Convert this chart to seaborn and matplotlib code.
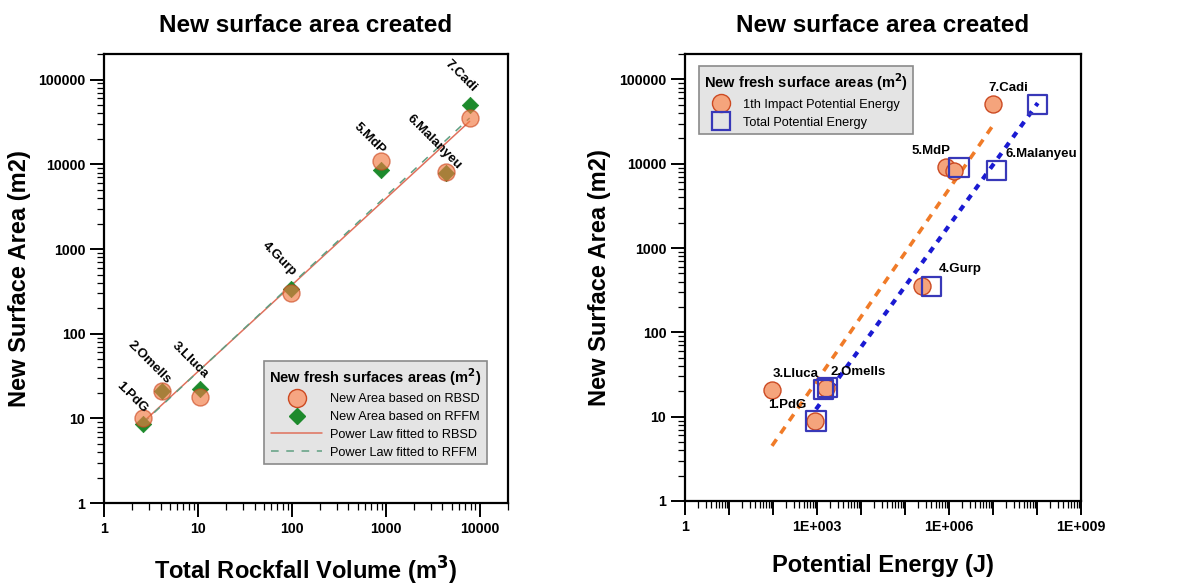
import numpy as np
import pandas as pd
import matplotlib
matplotlib.use('Agg')
import matplotlib.pyplot as plt
from matplotlib.lines import Line2D
from matplotlib.ticker import LogLocator, FuncFormatter, NullFormatter
import seaborn as sns

# site names, same order in both panels
sites = ['1.PdG', '2.Omells', '3.Lluca', '4.Gurp', '5.MdP', '6.Malanyeu', '7.Cadi']

# left panel: total rockfall volume (m3) vs new surface area (m2)
volume = [2.6, 4.1, 10.5, 98, 890, 4350, 7800]
area_rbsd = [10, 21, 18, 305, 10800, 8200, 35000]
area_rffm = [8.5, 21, 22, 340, 8500, 7900, 49500]

# right panel: potential energy (J) vs new surface area (m2)
energy_first = [900, 1600, 95, 245000, 850000, 1.3e6, 1.0e7]
energy_total = [950, 1700, 1380, 410000, 1.7e6, 1.23e7, 1.05e8]
area_energy = [8.9, 22, 21, 350, 9100, 8300, 51000]

# label offsets (pixels) for the site names
left_offsets = [(-11, 21), (-12, 29), (-10, 29), (-12, 30), (-12, 23), (-12, 30), (-9, 29)]
right_offsets = [(-29, 16), (31, 16), (-27, 16), (28, 17), (-28, 16), (45, 17), (-29, 16)]


def power_fit(x, y):
    # straight line in log-log space over the data range
    b, a = np.polyfit(np.log10(x), np.log10(y), 1)
    xs = np.array([min(x), max(x)])
    return xs, 10 ** a * xs ** b


sns.set_style('ticks')
plt.rcParams['font.family'] = ['Liberation Sans', 'DejaVu Sans']
plt.rcParams.update({
    'axes.linewidth': 1.6,
    'axes.edgecolor': 'black',
    'text.color': 'black',
    'axes.labelcolor': 'black',
    'xtick.color': 'black',
    'ytick.color': 'black',
})

df_left = pd.DataFrame({'site': sites, 'volume': volume,
                        'rbsd': area_rbsd, 'rffm': area_rffm})
df_right = pd.DataFrame({'site': sites, 'first': energy_first,
                         'total': energy_total, 'area': area_energy})

fig = plt.figure(figsize=(11.78, 5.85), dpi=100)
ax1 = fig.add_axes([0.0883, 0.140, 0.343, 0.7675])
ax2 = fig.add_axes([0.5815, 0.1436, 0.336, 0.764])

circle_face = '#f27a42'
circle_edge = '#cc4a22'
green = '#1d8a2c'

# ---- left panel ----
ax1.set_xscale('log')
ax1.set_yscale('log')
xs, ys = power_fit(volume, area_rbsd)
sns.lineplot(x=xs, y=ys, ax=ax1, color='#e0705c', lw=1.1, zorder=2)
xs, ys = power_fit(volume, area_rffm)
sns.lineplot(x=xs, y=ys, ax=ax1, color='#5f9f82', lw=1.1, zorder=2,
             linestyle=(0, (5, 5)))
sns.scatterplot(data=df_left, x='volume', y='rffm', ax=ax1, marker='D', s=70,
                color=green, edgecolor=green, linewidth=0.5, zorder=3)
sns.scatterplot(data=df_left, x='volume', y='rbsd', ax=ax1, marker='o', s=150,
                color=circle_face, edgecolor=circle_edge, linewidth=1.0,
                alpha=0.65, zorder=4)
for i, row in df_left.iterrows():
    dx, dy = left_offsets[i]
    ax1.annotate(row['site'], (row['volume'], max(row['rbsd'], row['rffm'])),
                 xytext=(dx, dy), textcoords='offset pixels', rotation=-45,
                 rotation_mode='anchor', ha='center', va='center',
                 fontsize=9.5, fontweight='bold', zorder=5)

ax1.set_xlim(1, 2e4)
ax1.set_ylim(1, 2e5)

left_handles = [
    Line2D([], [], marker='o', ls='none', ms=13, mfc='#f6a582', mec=circle_edge),
    Line2D([], [], marker='D', ls='none', ms=8, mfc=green, mec=green),
    Line2D([], [], color='#e0705c', lw=1.1),
    Line2D([], [], color='#5f9f82', lw=1.1, ls=(0, (5, 5))),
]
leg1 = ax1.legend(left_handles,
                  ['New Area based on RBSD', 'New Area based on RFFM',
                   'Power Law fitted to RBSD', 'Power Law fitted to RFFM'],
                  title='New fresh surfaces areas (m$^{\\mathbf{2}}$)',
                  loc='lower right', bbox_to_anchor=(0.963, 0.0735),
                  fontsize=9.2, title_fontsize=10.5, handlelength=4,
                  handletextpad=0.6, labelspacing=0.45, fancybox=False,
                  framealpha=1, facecolor='#e4e4e4', edgecolor='#8a8a8a')
leg1.get_title().set_fontweight('bold')
leg1.get_frame().set_linewidth(1.2)

# ---- right panel ----
ax2.set_xscale('log')
ax2.set_yscale('log')
xs, ys = power_fit(energy_first, area_energy)
sns.lineplot(x=xs, y=ys, ax=ax2, color='#f07b28', lw=2.6, zorder=2,
             linestyle=(0, (2.2, 2.0)))
xs, ys = power_fit(energy_total, area_energy)
sns.lineplot(x=xs, y=ys, ax=ax2, color='#1a1ad2', lw=3.0, zorder=2,
             linestyle=(0, (1.5, 1.6)))
sns.scatterplot(data=df_right, x='first', y='area', ax=ax2, marker='o', s=150,
                color='#f5a47c', edgecolor=circle_edge, linewidth=1.0, zorder=3)
sns.scatterplot(data=df_right, x='total', y='area', ax=ax2, marker='s', s=190,
                facecolor='none', edgecolor='#3838b8', linewidth=1.6, zorder=4)
for i, row in df_right.iterrows():
    dx, dy = right_offsets[i]
    ax2.annotate(row['site'], (row['total'], row['area']),
                 xytext=(dx, dy), textcoords='offset pixels',
                 ha='center', va='center', fontsize=9.5, fontweight='bold',
                 zorder=5)

ax2.set_xlim(1, 1e9)
ax2.set_ylim(1, 2e5)

right_handles = [
    Line2D([], [], marker='o', ls='none', ms=13, mfc='#f5a47c', mec=circle_edge),
    Line2D([], [], marker='s', ls='none', ms=13, mfc='none', mec='#3838b8', mew=1.6),
]
leg2 = ax2.legend(right_handles, ['1th Impact Potential Energy', 'Total Potential Energy'],
                  title='New fresh surface areas (m$^{\\mathbf{2}}$)',
                  loc='upper left', bbox_to_anchor=(0.018, 0.987),
                  fontsize=9.2, title_fontsize=10.5, handlelength=1.5,
                  handletextpad=1.0, labelspacing=0.45, fancybox=False,
                  framealpha=1, facecolor='#e4e4e4', edgecolor='#8a8a8a')
leg2.get_title().set_fontweight('bold')
leg2.get_frame().set_linewidth(1.2)

# ---- shared axis styling ----
for ax in (ax1, ax2):
    ax.yaxis.set_major_locator(LogLocator(base=10, numticks=20))
    ax.yaxis.set_minor_locator(LogLocator(base=10, subs=np.arange(2, 10), numticks=20))
    ax.yaxis.set_major_formatter(FuncFormatter(lambda v, p: f'{v:.0f}'))
    ax.yaxis.set_minor_formatter(NullFormatter())
    ax.xaxis.set_minor_locator(LogLocator(base=10, subs=np.arange(2, 10), numticks=20))
    ax.xaxis.set_minor_formatter(NullFormatter())
    ax.tick_params(which='major', direction='out', length=10, width=1.4,
                   labelsize=10.2)
    ax.tick_params(which='minor', direction='out', length=5, width=0.9)
    ax.set_title('New surface area created', fontsize=17.5, fontweight='bold', pad=16)
    ax.set_ylabel('New Surface Area (m2)', fontsize=17, fontweight='bold')

ax1.xaxis.set_major_locator(LogLocator(base=10, numticks=20))
ax1.xaxis.set_major_formatter(FuncFormatter(lambda v, p: f'{v:.0f}'))
ax1.set_xlabel('Total Rockfall Volume (m$^{\\mathbf{3}}$)', fontsize=17, fontweight='bold')

ax2.xaxis.set_major_locator(LogLocator(base=10, subs=(1.0,), numticks=20))
ax2.xaxis.set_major_formatter(FuncFormatter(
    lambda v, p: '' if round(np.log10(v)) % 3 else ('1' if v < 2 else f'1E+{int(round(np.log10(v))):03d}')))
ax2.set_xlabel('Potential Energy (J)', fontsize=17, fontweight='bold')

for ax in (ax1, ax2):
    for lab in ax.get_xticklabels() + ax.get_yticklabels():
        lab.set_fontweight('bold')

ax1.yaxis.set_label_coords(-0.18, 0.5)
ax2.yaxis.set_label_coords(-0.187, 0.5)
ax1.xaxis.set_label_coords(0.5, -0.115)
ax2.xaxis.set_label_coords(0.5, -0.118)

fig.savefig('out.png', dpi=100)
